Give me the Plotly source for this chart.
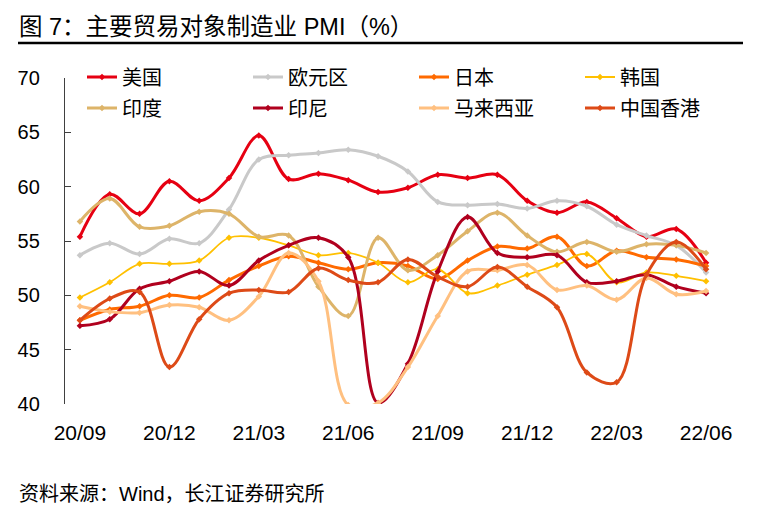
import plotly.graph_objects as go

months = ["20/09","20/10","20/11","20/12","21/01","21/02","21/03","21/04","21/05","21/06","21/07",
          "21/08","21/09","21/10","21/11","21/12","22/01","22/02","22/03","22/04","22/05","22/06"]
tick_labels = ["20/09","20/12","21/03","21/06","21/09","21/12","22/03","22/06"]

us    = [55.4,59.3,57.5,60.5,58.7,60.8,64.7,60.7,61.2,60.6,59.5,59.9,61.1,60.8,61.1,58.7,57.6,58.6,57.1,55.4,56.1,53.0]
ez    = [53.7,54.8,53.8,55.2,54.8,57.9,62.5,62.9,63.1,63.4,62.8,61.4,58.6,58.3,58.4,58.0,58.7,58.2,56.5,55.5,54.6,52.1]
jp    = [47.7,48.7,49.0,50.0,49.8,51.4,52.7,53.6,53.0,52.4,53.0,52.7,51.5,53.2,54.5,54.3,55.4,52.7,54.1,53.5,53.3,52.7]
kr    = [49.8,51.2,52.9,52.9,53.2,55.3,55.3,54.6,53.7,53.9,53.0,51.2,52.4,50.2,50.9,51.9,52.8,53.8,51.2,52.1,51.8,51.3]
india = [56.8,58.9,56.3,56.4,57.7,57.5,55.4,55.5,50.8,48.1,55.3,52.3,53.7,55.9,57.6,55.5,54.0,54.9,54.0,54.7,54.6,53.9]
indo  = [47.2,47.8,50.6,51.3,52.2,50.9,53.2,54.6,55.3,53.5,40.1,43.7,52.2,57.2,53.9,53.5,53.7,51.2,51.3,51.9,50.8,50.2]
my    = [49.0,48.5,48.4,49.1,48.9,47.7,49.9,53.9,51.3,39.9,40.1,43.4,48.1,52.2,52.3,52.8,50.5,50.9,49.6,51.6,50.1,50.4]
hk    = [47.7,49.7,50.3,43.4,47.8,50.2,50.5,50.3,52.5,51.4,51.2,53.3,51.7,50.8,52.6,50.8,48.9,42.9,42.0,51.9,54.9,52.4]

series = [
    ("美国", us, "#E60012", 3, "legend"),
    ("欧元区", ez, "#C9C9C9", 3, "legend"),
    ("日本", jp, "#FF6A00", 3, "legend"),
    ("韩国", kr, "#FFC000", 1.8, "legend"),
    ("印度", india, "#DDB469", 3, "legend2"),
    ("印尼", indo, "#B0001E", 3, "legend2"),
    ("马来西亚", my, "#FFC080", 3, "legend2"),
    ("中国香港", hk, "#DD4A17", 3, "legend2"),
]

W, H = 763, 523
L, R, T, B = 65, 42, 78, 119
pw, ph = W - L - R, H - T - B
def px(x): return (x - L) / pw
def py(y): return (H - B - y) / ph

FONT = "Liberation Sans, Arial, Noto Sans CJK SC"

fig = go.Figure()
for k, (name, vals, color, lw, leg) in enumerate(series):
    fig.add_trace(go.Scatter(
        x=months, y=vals, name=name, mode="lines+markers",
        line=dict(color=color, width=lw, shape="spline", smoothing=1.0),
        marker=dict(symbol="diamond", size=5, color=color),
        legend=leg, cliponaxis=True,
        legendwidth=(90 if k % 4 == 3 else 121),
    ))

fig.update_layout(
    width=W, height=H,
    margin=dict(l=L, r=R, t=T, b=B, autoexpand=False),
    paper_bgcolor="white", plot_bgcolor="white",
    font=dict(family=FONT, size=18, color="#000000"),
    xaxis=dict(type="category", range=[-0.5, len(months) - 0.5],
               tickmode="array", tickvals=tick_labels, ticktext=tick_labels,
               showline=False, ticks="", showgrid=False, zeroline=False,
               tickfont=dict(size=21), ticklabelstandoff=14),
    xaxis2=dict(overlaying="x", anchor="free", position=(50 - 40) / 30, side="top",
                range=[-0.5, len(months) - 0.5], tickmode="array",
                tickvals=[i + 2.5 for i in range(0, 21, 3)],
                showticklabels=False, ticks="outside", ticklen=6, tickwidth=1.3,
                tickcolor="#404040", showline=True, linecolor="#7F7F7F", linewidth=2,
                showgrid=False, zeroline=False),
    yaxis=dict(range=[40, 70], dtick=5, showgrid=False, zeroline=False,
               showline=True, linecolor="#404040", linewidth=1.3,
               ticks="inside", ticklen=6, tickwidth=1.3, tickcolor="#404040",
               tickfont=dict(size=20), ticklabelstandoff=20),
    legend=dict(orientation="h", x=px(82), xanchor="left", y=py(77), yanchor="middle",
                entrywidth=121, entrywidthmode="pixels", font=dict(size=20),
                bgcolor="rgba(0,0,0,0)", itemclick=False),
    legend2=dict(orientation="h", x=px(82), xanchor="left", y=py(108), yanchor="middle",
                 entrywidth=121, entrywidthmode="pixels", font=dict(size=20),
                 bgcolor="rgba(0,0,0,0)", itemclick=False),
    showlegend=True,
)

fig.add_annotation(text="图 7：主要贸易对象制造业 PMI（%）", xref="paper", yref="paper",
                   x=px(17), y=py(27), xanchor="left", yanchor="middle", showarrow=False,
                   font=dict(size=23.5, family=FONT))
fig.add_shape(type="line", xref="paper", yref="paper", x0=px(18), x1=px(743),
              y0=py(43), y1=py(43), line=dict(color="#000000", width=2.5))
fig.add_annotation(text="资料来源：Wind，长江证券研究所", xref="paper", yref="paper",
                   x=px(17), y=py(494), xanchor="left", yanchor="middle", showarrow=False,
                   font=dict(size=20, family=FONT))

fig.write_html("out.html", config={"displayModeBar": False},
               post_script="document.body.style.margin='0px';")
